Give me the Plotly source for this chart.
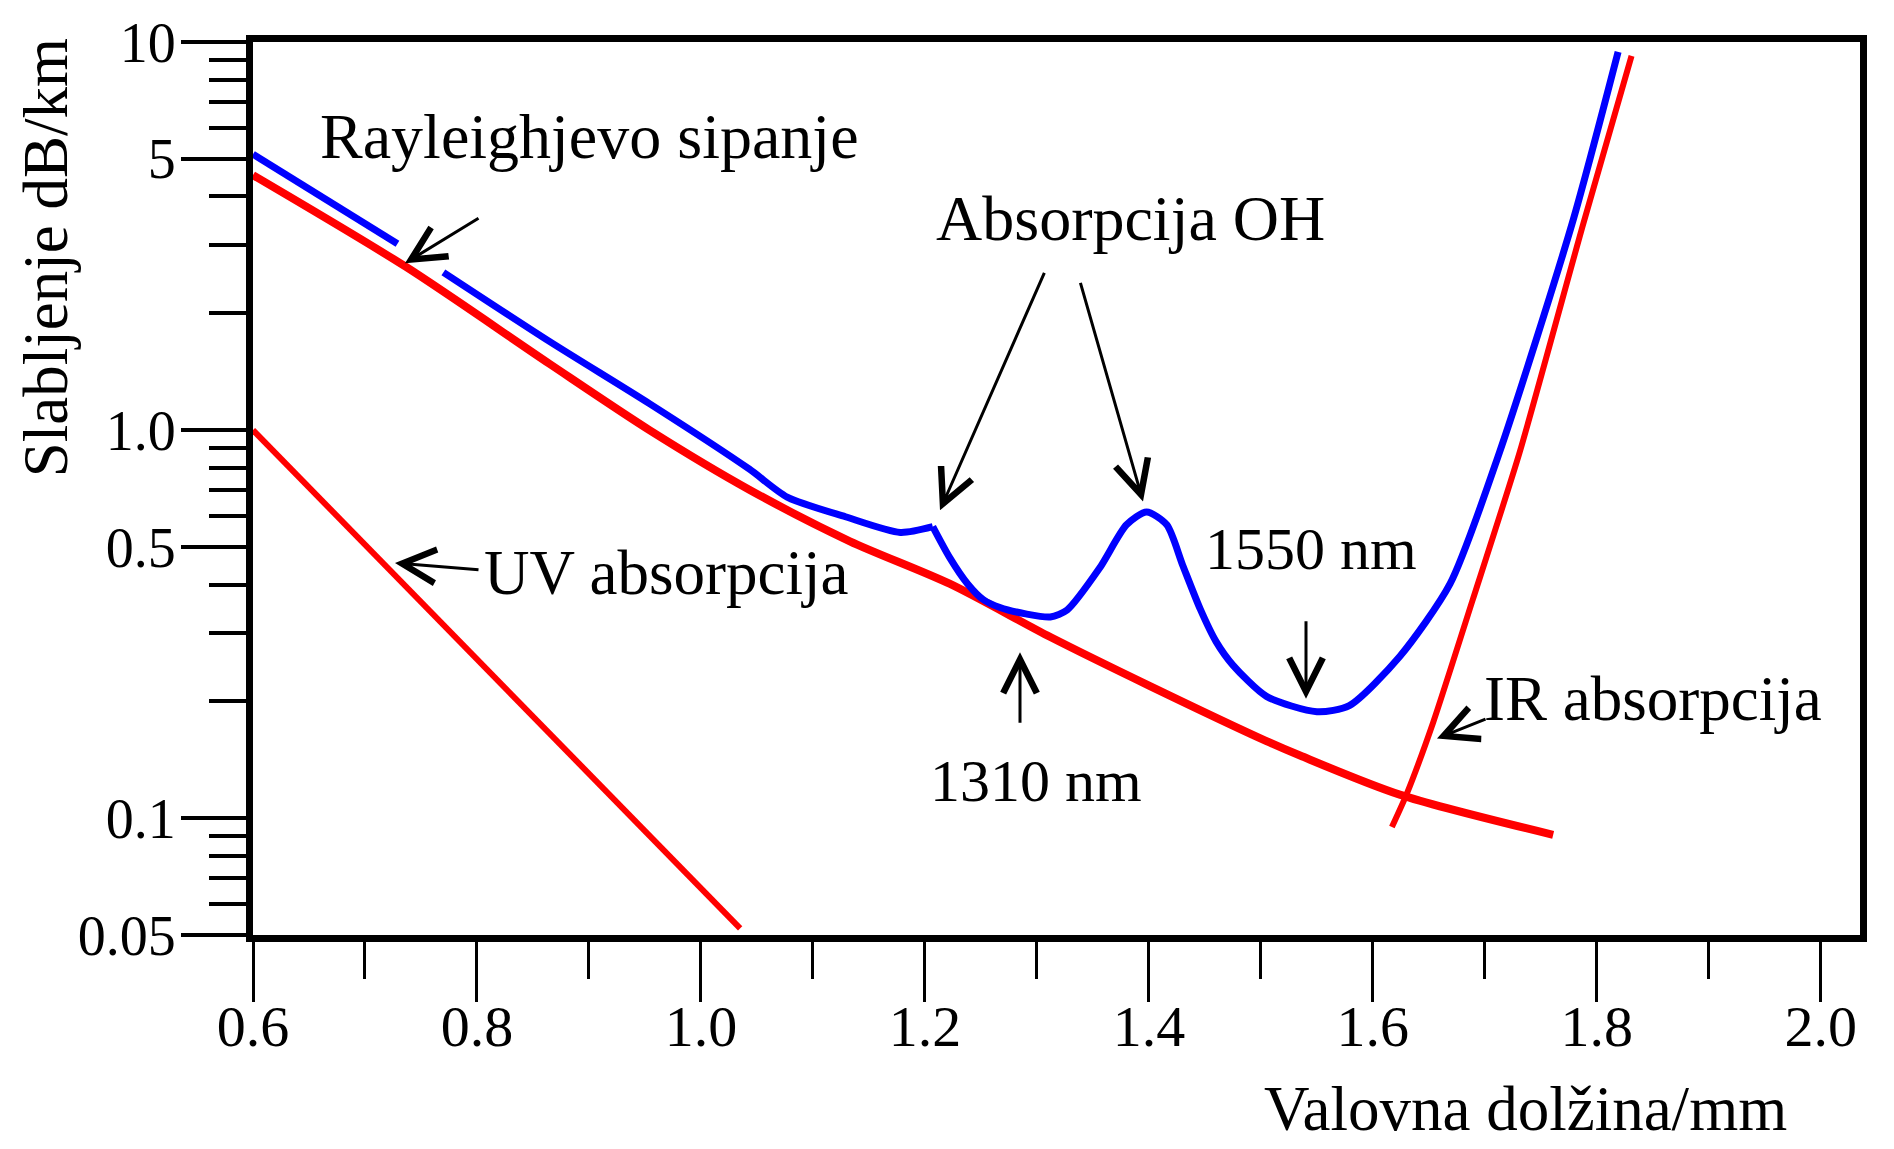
import plotly.graph_objects as go

# ---------------- data ----------------
# Rayleigh scattering (red)
rayleigh_wl = [0.600, 0.736, 0.865, 0.954, 1.044, 1.133, 1.222, 1.312, 1.401, 1.505, 1.535, 1.624, 1.761]
rayleigh_att = [4.54, 2.64, 1.48, 1.00, 0.70, 0.517, 0.402, 0.293, 0.219, 0.158, 0.145, 0.115, 0.0906]

# Total attenuation (blue); None = break (gap behind the Rayleigh arrow, sharp OH cusp)
total_wl = [0.600, 0.729, None, 0.770, 0.865, 0.954, 1.043, 1.077, 1.129, 1.178, 1.207, None,
            1.207, 1.222, 1.238, 1.252, 1.267, 1.290, 1.312, 1.327, 1.356, 1.380, 1.398, 1.416,
            1.430, 1.446, 1.460, 1.475, 1.505, 1.550, 1.579, 1.624, 1.669, 1.713, 1.778, 1.819]
total_att = [5.14, 3.02, None, 2.55, 1.69, 1.17, 0.794, 0.672, 0.598, 0.545, 0.564, None,
             0.564, 0.470, 0.402, 0.366, 0.349, 0.336, 0.330, 0.344, 0.441, 0.570, 0.615, 0.570,
             0.450, 0.345, 0.285, 0.248, 0.206, 0.188, 0.195, 0.261, 0.402, 0.875, 3.41, 9.43]

# UV absorption (red)
uv_wl = [0.600, 0.820, 1.035]
uv_att = [1.00, 0.225, 0.052]

# IR absorption (red)
ir_wl = [1.617, 1.630, 1.654, 1.689, 1.731, 1.788, 1.831]
ir_att = [0.0949, 0.115, 0.177, 0.364, 0.875, 3.41, 9.21]

# axis ticks
x_major = [0.6, 0.8, 1.0, 1.2, 1.4, 1.6, 1.8, 2.0]
x_major_text = ["0.6", "0.8", "1.0", "1.2", "1.4", "1.6", "1.8", "2.0"]
x_minor = [0.7, 0.9, 1.1, 1.3, 1.5, 1.7, 1.9]
y_major = [10, 5, 1, 0.5, 0.1, 0.05]
y_major_text = ["10", "5", "1.0", "0.5", "0.1", "0.05"]
y_minor = [9, 8, 7, 6, 4, 3, 2, 0.9, 0.8, 0.7, 0.6, 0.4, 0.3, 0.2, 0.09, 0.08, 0.07, 0.06]

# ---------------- layout geometry ----------------
W, H = 1894, 1149
L, R, T, B = 253, 34, 35, 214
PW, PH = W - L - R, H - T - B
FONT = "Liberation Serif, Times New Roman, serif"


def fx(p):
    return (p - L) / PW


def fy(p):
    return (H - B - p) / PH


RED = "#ff0000"
BLUE = "#0000ff"

fig = go.Figure()
fig.add_trace(go.Scatter(x=uv_wl, y=uv_att, mode="lines",
                         line=dict(color=RED, width=6), hoverinfo="skip"))
fig.add_trace(go.Scatter(x=rayleigh_wl, y=rayleigh_att, mode="lines",
                         line=dict(color=RED, width=8, shape="spline", smoothing=0.8),
                         hoverinfo="skip"))
fig.add_trace(go.Scatter(x=ir_wl, y=ir_att, mode="lines",
                         line=dict(color=RED, width=6, shape="spline", smoothing=0.6),
                         hoverinfo="skip"))
fig.add_trace(go.Scatter(x=total_wl, y=total_att, mode="lines", connectgaps=False,
                         line=dict(color=BLUE, width=7, shape="spline", smoothing=0.7),
                         hoverinfo="skip"))

ann = []


def label(text, xl, yc, size=63, anchor="left", angle=0):
    ann.append(dict(text=text, x=fx(xl), y=fy(yc), xref="paper", yref="paper",
                    xanchor=anchor, yanchor="middle", showarrow=False, textangle=angle,
                    font=dict(family=FONT, size=size, color="black")))


def arrow(head, tail):
    ann.append(dict(text="", x=fx(head[0]), y=fy(head[1]), xref="paper", yref="paper",
                    ax=tail[0] - head[0], ay=tail[1] - head[1],
                    showarrow=True, arrowhead=5, arrowsize=2.2, arrowwidth=3,
                    arrowcolor="black"))


label("Rayleighjevo sipanje", 318, 130, size=64)
label("Absorpcija OH", 934, 213, size=64)
label("1550 nm", 1203, 546, size=60)
label("1310 nm", 928, 780, size=60)
label("UV absorpcija", 482, 570)
label("IR absorpcija", 1482, 697)
label("Slabljenje dB/km", 46, 252, size=63, anchor="center", angle=-90)
label("Valovna dolžina/mm", 1525, 1110, size=63, anchor="center")

arrow((405, 258), (480, 212))
arrow((940, 507), (1045, 268))
arrow((1143, 498), (1080, 278))
arrow((1306, 697), (1306, 618))
arrow((1020, 650), (1020, 722))
arrow((395, 560), (480, 567))
arrow((1437, 737), (1487, 717))

fig.update_layout(
    width=W, height=H,
    margin=dict(l=L, r=R, t=T, b=B),
    paper_bgcolor="white", plot_bgcolor="white",
    showlegend=False,
    annotations=ann,
    xaxis=dict(range=[0.6, 2.035], showgrid=False, zeroline=False,
               showline=True, linecolor="black", linewidth=7, mirror=True,
               ticks="outside", ticklen=60, tickwidth=3, tickcolor="black",
               tickmode="array", tickvals=x_major, ticktext=x_major_text,
               ticklabelstandoff=-26,
               tickfont=dict(family=FONT, size=58, color="black"),
               minor=dict(tickmode="array", tickvals=x_minor, ticks="outside",
                          ticklen=37, tickwidth=3, tickcolor="black", showgrid=False)),
    yaxis=dict(type="log", range=[-1.30103, 1.0], showgrid=False, zeroline=False,
               showline=True, linecolor="black", linewidth=7, mirror=True,
               ticks="outside", ticklen=65, tickwidth=4, tickcolor="black",
               tickmode="array", tickvals=y_major, ticktext=y_major_text,
               ticklabelstandoff=-6,
               tickfont=dict(family=FONT, size=56, color="black"),
               minor=dict(tickmode="array", tickvals=y_minor, ticks="outside",
                          ticklen=37, tickwidth=4, tickcolor="black", showgrid=False)),
)

fig.write_html("out.html")
